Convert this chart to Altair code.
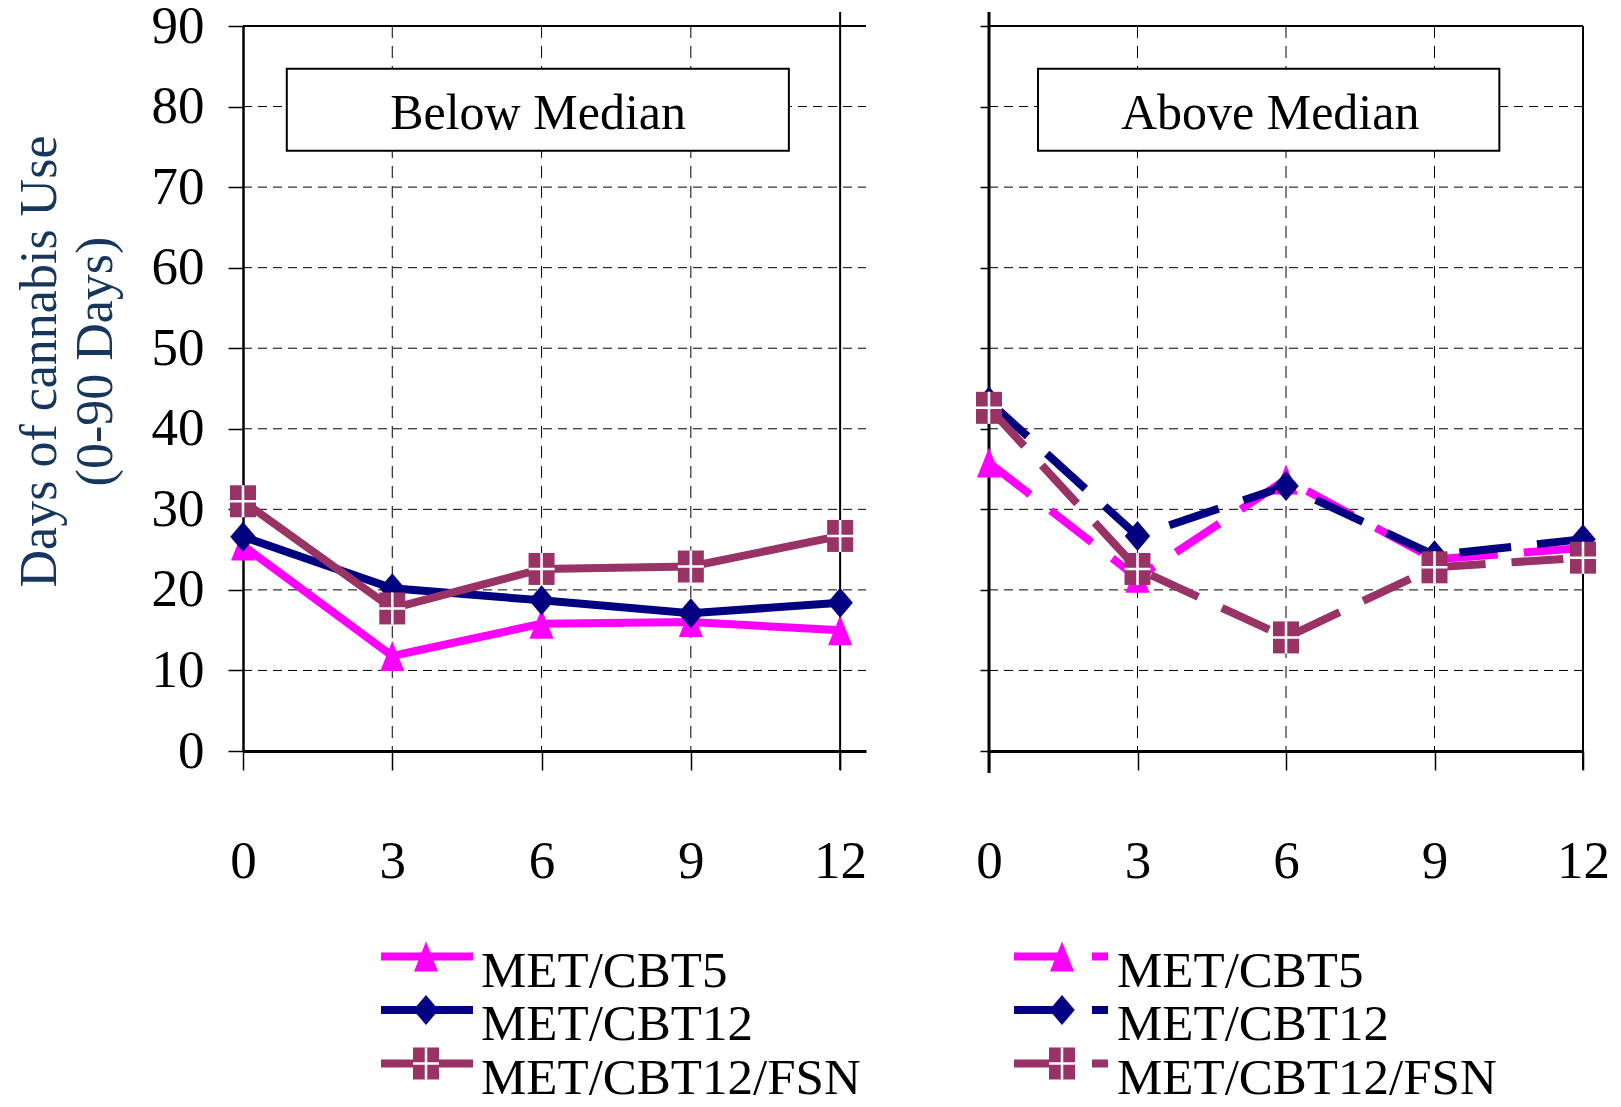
import altair as alt
import pandas as pd

# ---------------- data ----------------
months = [0, 3, 6, 9, 12]
series = ["MET/CBT5", "MET/CBT12", "MET/CBT12/FSN"]

below_cbt5 = [25.5, 11.8, 15.8, 16.0, 15.0]
below_cbt12 = [26.6, 20.2, 18.7, 17.1, 18.4]
below_fsn = [31.0, 17.7, 22.6, 22.9, 26.7]

above_cbt5 = [35.8, 21.5, 33.7, 23.8, 25.2]
above_cbt12 = [43.4, 26.7, 32.9, 24.3, 26.3]
above_fsn = [42.6, 22.6, 14.1, 22.8, 24.0]

y_ticks = [0, 10, 20, 30, 40, 50, 60, 70, 80, 90]
x_grid = [3, 6, 9]
panel_titles = ["Below Median", "Above Median"]
y_title = ["Days of cannabis Use", "(0-90 Days)"]

# ---------------- styles ----------------
colors = ["#FF00FF", "#000080", "#993366"]
FONT = "Liberation Serif"
H = 725
DASH = [52, 26]
TRI = "M0,-1L0.8,1L-0.8,1Z"
DIA = "M0,-1L0.85,0L0,1L-0.85,0Z"
SQ = "M-0.8125,-1L0.8125,-1L0.8125,1L-0.8125,1Z"
CROSS = ("M-0.8125,-0.08L0.8125,-0.08L0.8125,0.08L-0.8125,0.08Z "
         "M-0.08,-1L0.08,-1L0.08,1L-0.08,1Z")
shapes = [TRI, DIA, SQ]
sizes = [900, 900, 1024]

legend_line_y = [930.5, 984.0, 1037.5]
legend_text_y = [960.5, 1014.0, 1067.5]


def long_df(vals_list):
    rows = []
    for s, vals in zip(series, vals_list):
        for m, v in zip(months, vals):
            rows.append({"month": m, "value": v, "series": s})
    return pd.DataFrame(rows)


def make_panel(vals_list, title, xmax, width, left, dashed, box, text_pos, leg):
    df = long_df(vals_list)
    xs = alt.Scale(domain=[0, xmax], nice=False, zero=False)
    ys = alt.Scale(domain=[0, 90], nice=False, zero=False)
    xaxis = alt.Axis(values=months, format="d", grid=False, domain=True,
                     domainColor="black", domainWidth=3, ticks=True,
                     tickColor="black", tickWidth=1.5, tickSize=19,
                     labelFont=FONT, labelFontSize=53, labelColor="black",
                     labelPadding=65, labelFlush=False, labelOverlap=False,
                     title=None)
    if left:
        yaxis = alt.Axis(values=y_ticks, grid=False, domain=True,
                         domainColor="black", domainWidth=2.5, ticks=True,
                         tickSize=15, tickWidth=1.5, tickColor="black",
                         labelFont=FONT, labelFontSize=53, labelColor="black",
                         labelPadding=24, labelOverlap=False,
                         title=y_title, titleFont=FONT, titleFontSize=52,
                         titleFontWeight="normal", titleColor="#17365D",
                         titleLineHeight=56, titlePadding=29, titleY=335)
    else:
        yaxis = alt.Axis(values=y_ticks, grid=False, domain=False,
                         labels=False, ticks=True, tickSize=9, tickWidth=1.5,
                         tickColor="black", title=None)
    X = alt.X("month:Q", scale=xs, axis=xaxis)
    Y = alt.Y("value:Q", scale=ys, axis=yaxis)

    layers = []
    # horizontal dashed grid
    layers.append(
        alt.Chart(pd.DataFrame({"value": y_ticks[1:-1]}))
        .mark_rule(color="black", strokeWidth=1, strokeDash=[9, 6])
        .encode(y=Y, x=alt.value(0), x2=alt.value(width))
    )
    # top border
    layers.append(
        alt.Chart(pd.DataFrame({"value": y_ticks[-1:]}))
        .mark_rule(color="black", strokeWidth=2)
        .encode(y=Y, x=alt.value(0), x2=alt.value(width))
    )
    # vertical dashed grid
    layers.append(
        alt.Chart(pd.DataFrame({"month": x_grid}))
        .mark_rule(color="black", strokeWidth=1, strokeDash=[12, 8])
        .encode(x=X, y=alt.value(0), y2=alt.value(H))
    )
    # solid vertical frame lines
    if left:
        layers.append(
            alt.Chart(pd.DataFrame({"month": months[-1:]}))
            .mark_rule(color="black", strokeWidth=2)
            .encode(x=X, y=alt.value(-14), y2=alt.value(H + 19))
        )
    else:
        layers.append(
            alt.Chart(pd.DataFrame({"month": months[:1]}))
            .mark_rule(color="black", strokeWidth=3)
            .encode(x=X, y=alt.value(-14), y2=alt.value(H + 22))
        )
        layers.append(
            alt.Chart(pd.DataFrame({"month": months[-1:]}))
            .mark_rule(color="black", strokeWidth=2)
            .encode(x=X, y=alt.value(0), y2=alt.value(H + 19))
        )
    # title box
    layers.append(
        alt.Chart(pd.DataFrame({"month": [box[0]], "month2": [box[1]],
                                "value": [box[2]], "value2": [box[3]]}))
        .mark_rect(fill="white", stroke="black", strokeWidth=2)
        .encode(x=X, x2=alt.X2("month2:Q"), y=Y, y2=alt.Y2("value2:Q"))
    )
    layers.append(
        alt.Chart(pd.DataFrame({"month": [text_pos[0]], "value": [text_pos[1]],
                                "label": [title]}))
        .mark_text(font=FONT, fontSize=50, baseline="alphabetic",
                   align="center", color="black")
        .encode(x=X, y=Y, text="label:N")
    )
    # lines
    line_kw = dict(strokeWidth=8, strokeCap="butt")
    if dashed:
        line_kw["strokeDash"] = DASH
    layers.append(
        alt.Chart(df).mark_line(**line_kw).encode(
            x=X, y=Y,
            color=alt.Color("series:N", scale=alt.Scale(domain=series, range=colors),
                            legend=None),
            order=alt.Order("month:Q"),
        )
    )
    # markers
    for i, s in enumerate(series):
        sub = df[df["series"] == s]
        layers.append(
            alt.Chart(sub).mark_point(shape=shapes[i], size=sizes[i], filled=True,
                                      color=colors[i], opacity=1, strokeWidth=0)
            .encode(x=X, y=Y)
        )
        if i == 2:
            layers.append(
                alt.Chart(sub).mark_point(shape=CROSS, size=sizes[i], filled=True,
                                          color="white", opacity=1, strokeWidth=0)
                .encode(x=X, y=Y)
            )
    # legend
    lx0, lx1, mx, tx = leg
    for i, s in enumerate(series):
        ldf = pd.DataFrame({"series": [s]})
        rk = dict(color=colors[i], strokeWidth=8, strokeCap="butt")
        if dashed:
            rk["strokeDash"] = DASH
        layers.append(
            alt.Chart(ldf).mark_rule(**rk).encode(
                x=alt.value(lx0), x2=alt.value(lx1), y=alt.value(legend_line_y[i]))
        )
        layers.append(
            alt.Chart(ldf).mark_point(shape=shapes[i], size=sizes[i], filled=True,
                                      color=colors[i], opacity=1, strokeWidth=0)
            .encode(x=alt.value(mx), y=alt.value(legend_line_y[i]))
        )
        if i == 2:
            layers.append(
                alt.Chart(ldf).mark_point(shape=CROSS, size=sizes[i], filled=True,
                                          color="white", opacity=1, strokeWidth=0)
                .encode(x=alt.value(mx), y=alt.value(legend_line_y[i]))
            )
        layers.append(
            alt.Chart(ldf).mark_text(font=FONT, fontSize=51, align="left",
                                     baseline="alphabetic", color="black")
            .encode(x=alt.value(tx), y=alt.value(legend_text_y[i]), text="series:N")
        )
    return alt.layer(*layers).properties(width=width, height=H)


left_chart = make_panel([below_cbt5, below_cbt12, below_fsn], panel_titles[0],
                        12.52, 623, True, False,
                        (0.88, 10.97, 74.5, 84.7), (5.93, 77.2),
                        (138, 230, 183, 238))
right_chart = make_panel([above_cbt5, above_cbt12, above_fsn], panel_titles[1],
                         12, 594, False, True,
                         (0.99, 10.31, 74.5, 84.7), (5.68, 77.2),
                         (25, 119, 73, 128))

chart = alt.hconcat(left_chart, right_chart, spacing=106).properties(
    padding={"left": 5, "top": -8, "right": 0, "bottom": 0}
).configure_view(stroke=None)

chart.save("out.html", embed_options={"renderer": "svg", "actions": False})
